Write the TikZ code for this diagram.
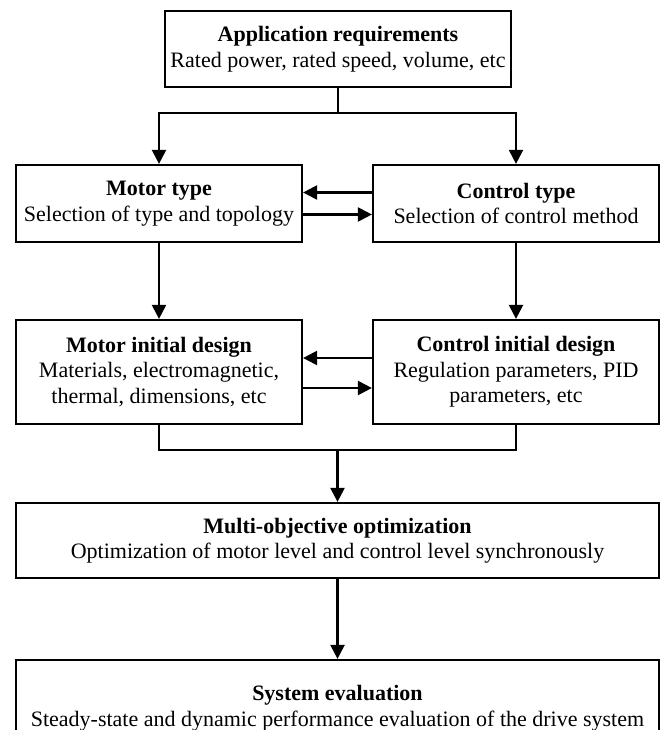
\documentclass[tikz,border=0pt]{standalone}
\usepackage{fontspec}
\setmainfont{Liberation Serif}
\usetikzlibrary{arrows.meta}
\begin{document}
\begin{tikzpicture}[x=1pt,y=-1pt,
  box/.style={draw,line width=2.2pt,rectangle,align=center,inner sep=0pt,
    font=\fontsize{22}{25.5}\selectfont},
  conn/.style={line width=2.2pt},
  arr/.style={conn,-{Triangle[length=14pt,width=14pt]}}]
\useasboundingbox (0,0) rectangle (665,730);
\clip (0,0) rectangle (665,730);
% top requirement box
\node[box,minimum width=346pt,minimum height=76pt] (app) at (338,49)
  {\textbf{Application requirements}\\Rated power, rated speed, volume, etc};
% type selection
\node[box,minimum width=286pt,minimum height=77pt] (mt) at (159,203.5)
  {\textbf{Motor type}\\Selection of type and topology};
\node[box,minimum width=286pt,minimum height=77pt] (ct) at (516,203.5)
  {\textbf{Control type}\\Selection of control method};
% initial designs
\node[box,minimum width=286pt,minimum height=104pt] (md) at (159,372)
  {\textbf{Motor initial design}\\Materials, electromagnetic,\\thermal, dimensions, etc};
\node[box,minimum width=286pt,minimum height=104pt] (cd) at (516,372)
  {\textbf{Control initial design}\\Regulation parameters, PID\\parameters, etc};
% optimisation and evaluation
\node[box,minimum width=643pt,minimum height=75pt] (mo) at (337.5,540.5)
  {\textbf{Multi-objective optimization}\\Optimization of motor level and control level synchronously};
\node[box,minimum width=643pt,minimum height=96pt] (se) at (337.5,708)
  {\textbf{System evaluation}\\Steady-state and dynamic performance evaluation of the drive system};
% split below the requirement box
\coordinate (split) at (app.south |- 0,113);
\draw[conn] (app.south) -- (split);
\draw[arr] (split) -| (mt.north);
\draw[arr] (split) -| (ct.north);
% exchange between type boxes
\draw[arr] ([yshift=11pt]ct.west) -- ([yshift=11pt]mt.east);
\draw[arr] ([yshift=-11pt]mt.east) -- ([yshift=-11pt]ct.west);
\draw[arr] (mt.south) -- (md.north);
\draw[arr] (ct.south) -- (cd.north);
% exchange between design boxes
\draw[arr] ([yshift=14pt]cd.west) -- ([yshift=14pt]md.east);
\draw[arr] ([yshift=-16pt]md.east) -- ([yshift=-16pt]cd.west);
% merge into optimisation
\coordinate (merge) at (mo.north |- 0,450);
\draw[conn] (md.south) |- (merge) -| (cd.south);
\draw[arr] (merge) -- (mo.north);
\draw[arr] (mo.south) -- (se.north);
\end{tikzpicture}
\end{document}
